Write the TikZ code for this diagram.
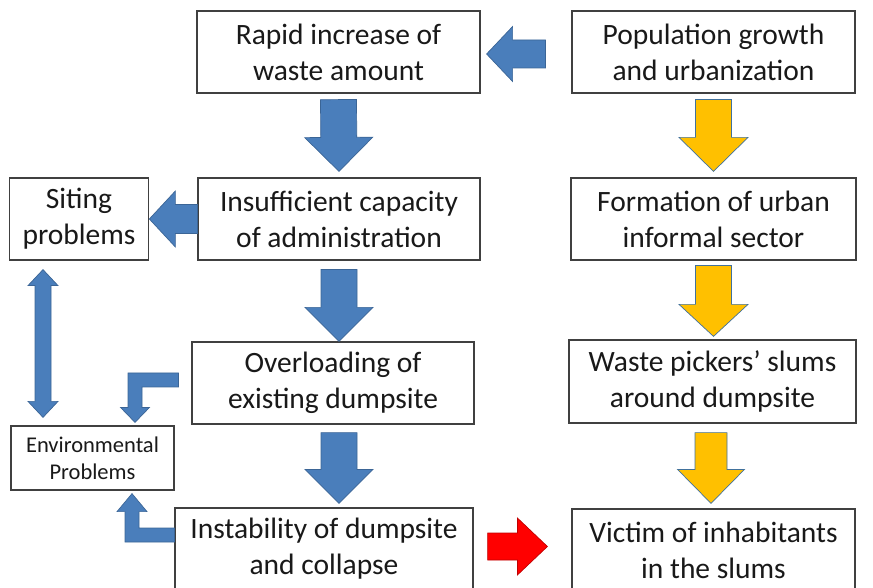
\documentclass[tikz,border=0pt]{standalone}
\usepackage{fontspec}
\setmainfont{Carlito}
\usetikzlibrary{calc,positioning}
\definecolor{blockblue}{HTML}{4A7EBB}
\definecolor{blockedge}{HTML}{3B6596}
\definecolor{blockyellow}{HTML}{FFC000}
\definecolor{yellowedge}{HTML}{41719C}
\definecolor{blockred}{HTML}{FF0000}
\definecolor{rededge}{HTML}{C00000}
\definecolor{boxedge}{HTML}{404040}
\newcommand{\boxfont}{\fontsize{29.5}{36}\selectfont}
\newcommand{\smallboxfont}{\fontsize{22.5}{27}\selectfont}
\tikzset{box/.style={rectangle,draw=boxedge,line width=1.2pt,fill=white,minimum height=82pt,inner sep=0pt,align=center,font=\boxfont,text=black!90},
         smallbox/.style={box,minimum height=64pt,font=\smallboxfont},
         bshaft/.store in=\bshaft, bhead/.store in=\bhead, blen/.store in=\blen,
         bshaft=18pt, bhead=34pt, blen=34pt,
         blockarrow/.style={draw=blockedge,fill=blockblue,line width=0.7pt,line join=miter,
           to path={let \p1=(\tikztostart), \p2=(\tikztotarget), \p3=($(\p2)!\blen!(\p1)$) in
             ($(\p1)!\bshaft!90:(\p2)$) -- ($(\p3)!\bshaft!90:(\p2)$) -- ($(\p3)!\bhead!90:(\p2)$) -- (\p2)
             -- ($(\p3)!\bhead!-90:(\p2)$) -- ($(\p3)!\bshaft!-90:(\p2)$) -- ($(\p1)!\bshaft!-90:(\p2)$) -- cycle}},
         doublearrow/.style={blockarrow,
           to path={let \p1=(\tikztostart), \p2=(\tikztotarget), \p3=($(\p1)!\blen!(\p2)$), \p4=($(\p2)!\blen!(\p1)$) in
             (\p1) -- ($(\p3)!\bhead!90:(\p2)$) -- ($(\p3)!\bshaft!90:(\p2)$) -- ($(\p4)!\bshaft!90:(\p2)$) -- ($(\p4)!\bhead!90:(\p2)$) -- (\p2)
             -- ($(\p4)!\bhead!-90:(\p2)$) -- ($(\p4)!\bshaft!-90:(\p2)$) -- ($(\p3)!\bshaft!-90:(\p2)$) -- ($(\p3)!\bhead!-90:(\p2)$) -- cycle}},
         elbowarrow/.style={blockarrow,
           to path={let \p1=(\tikztostart), \p2=(\tikztotarget), \n1={sign(\y2-\y1)} in
             (\x1,{\y1-\n1*\bshaft}) -- ({\x2-\bshaft},{\y1-\n1*\bshaft}) -- ({\x2-\bshaft},{\y2-\n1*\blen}) -- ({\x2-\bhead},{\y2-\n1*\blen}) -- (\p2)
             -- ({\x2+\bhead},{\y2-\n1*\blen}) -- ({\x2+\bshaft},{\y2-\n1*\blen}) -- ({\x2+\bshaft},{\y1+\n1*\bshaft}) -- (\x1,{\y1+\n1*\bshaft}) -- cycle}},
         yellowarrow/.style={blockarrow,draw=yellowedge,fill=blockyellow},
         redarrow/.style={blockarrow,draw=rededge,fill=blockred}
}

\begin{document}
\begin{tikzpicture}[x=1pt,y=1pt]
\useasboundingbox (0,0) rectangle (873,587);

\node[box,minimum width=283pt] (rapid) at (338.5,535) {Rapid increase of\\waste amount};
\node[box,minimum width=283pt] (pop) at (713.5,535) {Population growth\\and urbanization};
\node[box,minimum width=139.5pt] (siting) at (79,368) {Siting\\problems};
\node[box,minimum width=282pt] (insuff) at (339,368) {Insufficient capacity\\of administration};
\node[box,minimum width=285pt] (form) at (713.5,368) {Formation of urban\\informal sector};
\node[box,minimum width=282pt] (over) at (333,204) {Overloading of\\existing dumpsite};
\node[box,minimum width=287pt,minimum height=83pt] (waste) at (712.5,205.5) {Waste pickers’ slums\\around dumpsite};
\node[smallbox,minimum width=163pt] (env) at (92.5,129) {Environmental\\Problems};
\node[box,minimum width=298pt] (inst) at (324,38) {Instability of dumpsite\\and collapse};
\node[box,minimum width=283pt] (victim) at (713.5,37) {Victim of inhabitants\\in the slums};

% blue chain
\draw[blockarrow,bshaft=14pt,bhead=27.5pt,blen=26pt] ([xshift=-26pt,yshift=-2pt]pop.west) to ([xshift=6pt,yshift=-2pt]rapid.east);
\draw[blockarrow] ([yshift=-6pt]rapid.south) to ([yshift=6pt]insuff.north);
\draw[blockarrow,bshaft=14.5pt,bhead=28pt,blen=26pt] (insuff.west) to (siting.east);
\draw[blockarrow] ([yshift=-9pt]insuff.south) to (insuff.south |- over.north);
\draw[blockarrow] ([yshift=-8pt]insuff.south |- over.south) to ([yshift=4pt]insuff.south |- inst.north);
\draw[doublearrow,bshaft=8pt,bhead=15pt,blen=16pt] ([xshift=-36pt,yshift=-9pt]siting.south) to ([xshift=-49.5pt,yshift=8pt]env.north);
\draw[elbowarrow,bshaft=7pt,bhead=14.5pt,blen=15pt] ([xshift=-13pt,yshift=3pt]over.west) to ([xshift=42.5pt,yshift=3pt]env.north);
\draw[elbowarrow,bshaft=7pt,bhead=15pt,blen=18pt] ([yshift=14pt]inst.west) to ([xshift=39.5pt,yshift=-3pt]env.south);

% yellow chain
\draw[yellowarrow,bhead=34.5pt] ([yshift=-6pt]pop.south) to ([yshift=6pt]form.south |- form.north);
\draw[yellowarrow,bhead=34.5pt,blen=32pt] ([yshift=-5pt]form.south) to ([yshift=3pt]form.south |- waste.north);
\draw[yellowarrow,bshaft=16pt,bhead=33.5pt] ([xshift=-1.5pt,yshift=-9pt]waste.south) to ([xshift=-1.5pt,yshift=5pt]waste.south |- victim.north);

\draw[redarrow,bshaft=13.5pt,bhead=28.5pt,blen=30pt] ([xshift=14pt,yshift=2.5pt]inst.east) to ([xshift=-24pt,yshift=3.5pt]victim.west);
\end{tikzpicture}
\end{document}
